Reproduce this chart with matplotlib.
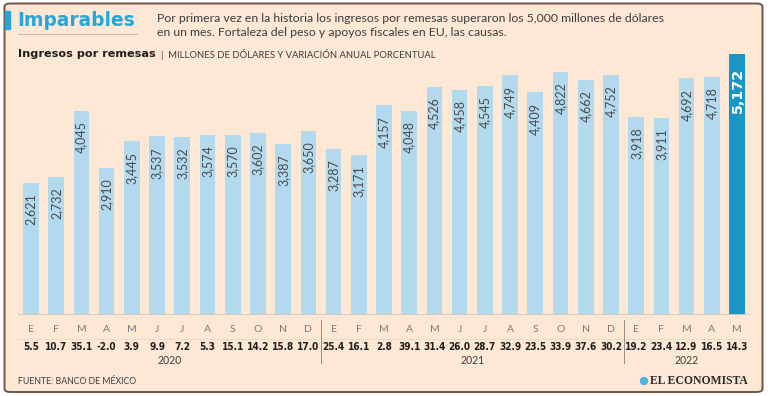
import matplotlib
matplotlib.use("Agg")
import matplotlib.pyplot as plt
import matplotlib.transforms as mtransforms
from matplotlib.patches import FancyBboxPatch, Rectangle, Ellipse

# == Data: remesas (millones de dolares) y variacion anual (%) == #
months = ['E', 'F', 'M', 'A', 'M', 'J', 'J', 'A', 'S', 'O', 'N', 'D',
          'E', 'F', 'M', 'A', 'M', 'J', 'J', 'A', 'S', 'O', 'N', 'D',
          'E', 'F', 'M', 'A', 'M']
ingresos = [2621, 2732, 4045, 2910, 3445, 3537, 3532, 3574, 3570, 3602, 3387, 3650,
            3287, 3171, 4157, 4048, 4526, 4458, 4545, 4749, 4409, 4822, 4662, 4752,
            3918, 3911, 4692, 4718, 5172]
variacion = ['5.5', '10.7', '35.1', '-2.0', '3.9', '9.9', '7.2', '5.3', '15.1', '14.2', '15.8', '17.0',
             '25.4', '16.1', '2.8', '39.1', '31.4', '26.0', '28.7', '32.9', '23.5', '33.9', '37.6', '30.2',
             '19.2', '23.4', '12.9', '16.5', '14.3']
years = ['2020', '2021', '2022']
year_span = [(0, 11), (12, 23), (24, 28)]

W, H = 768, 396
BG = '#fde7d5'
LIGHT = '#b3d9ee'
DARK = '#1a96c6'
TITLE_BLUE = '#27a6dc'
TXT = '#3d3d3d'


def fx(x):
    return x / W


def fy(y):
    return 1 - y / H


fig = plt.figure(figsize=(W / 100, H / 100), dpi=100)
fig.patch.set_facecolor('white')

# == Frame == #
frame = FancyBboxPatch((fx(4.5), fy(392)), fx(758), (388.5) / H,
                       boxstyle='round,pad=0,rounding_size=0.008',
                       transform=fig.transFigure, facecolor=BG,
                       edgecolor='#6e5546', linewidth=1.4, zorder=-10)
fig.patches.append(frame)

# == Header == #
fig.patches.append(Rectangle((fx(5), fy(29)), fx(5), 18 / H,
                             transform=fig.transFigure, color=TITLE_BLUE, zorder=-5))
fig.text(fx(17), fy(20.5), 'Imparables', fontsize=13.4, fontweight='bold',
         family='DejaVu Sans', color=TITLE_BLUE, va='center', ha='left')
fig.add_artist(plt.Line2D([fx(18), fx(137)], [fy(34), fy(34)],
                          transform=fig.transFigure, color='#cdbfb4', lw=0.8))
fig.text(fx(157), fy(18), 'Por primera vez en la historia los ingresos por remesas '
         'superaron los 5,000 millones de dólares', fontsize=8.8, family='Lato',
         color=TXT, va='center', ha='left')
fig.text(fx(157), fy(33), 'en un mes. Fortaleza del peso y apoyos fiscales en EU, las causas.',
         fontsize=8.8, family='Lato', color=TXT, va='center', ha='left')
fig.text(fx(18), fy(54), 'Ingresos por remesas', fontsize=8.1, fontweight='bold',
         family='DejaVu Sans', color='#1e1e1e', va='center', ha='left')
fig.text(fx(161), fy(54), '|  MILLONES DE DÓLARES Y VARIACIÓN ANUAL PORCENTUAL',
         fontsize=6.8, family='Lato', color=TXT, va='center', ha='left')

# == Bars == #
ax = fig.add_axes([fx(18), fy(315), (750 - 18) / W, (315 - 50) / H])
ax.set_facecolor('none')
x = list(range(len(ingresos)))
colors = [LIGHT] * (len(ingresos) - 1) + [DARK]
ax.bar(x, ingresos, width=0.62, color=colors, zorder=2)
ax.set_xlim(-0.516, len(ingresos) - 1 + 0.516)
ax.set_ylim(0, 5251)
ax.axhline(0, color='#dbc6b3', lw=1.3, zorder=3)
for s in ax.spines.values():
    s.set_visible(False)
ax.set_xticks([])
ax.set_yticks([])

for i, v in enumerate(ingresos):
    label = '{:,}'.format(v)
    if i == len(ingresos) - 1:
        ax.annotate(label, (i, v), xytext=(0.5, -10), textcoords='offset points',
                    rotation=90, ha='center', va='top', fontsize=10.3,
                    fontweight='bold', family='DejaVu Sans', color='white', zorder=4)
    else:
        ax.annotate(label, (i, v), xytext=(0, -7.5), textcoords='offset points',
                    rotation=90, ha='center', va='top', fontsize=9,
                    family='Lato', color='#4a4a4a', zorder=4)

# == Bottom table: months, changes, years == #
tr = mtransforms.blended_transform_factory(ax.transData, fig.transFigure)
for i, m in enumerate(months):
    ax.text(i, fy(330), m, transform=tr, ha='center', va='center',
            fontsize=7.5, family='Lato', color='#7a7a7a')
    ax.text(i, fy(347), variacion[i], transform=tr, ha='center', va='center',
            fontsize=7.2, family='DejaVu Sans', fontstretch='condensed',
            fontweight='bold', color='#1e1e1e')
ax.add_artist(plt.Line2D([-0.516, len(ingresos) - 0.484], [fy(338.5), fy(338.5)],
                         transform=tr, color='#f0d9c6', lw=0.8, clip_on=False))
for (a, b), yr in zip(year_span, years):
    ax.text((a + b) / 2, fy(361), yr, transform=tr, ha='center', va='center',
            fontsize=7.6, family='Lato', color=TXT)
for a, b in year_span[:-1]:
    ax.add_artist(plt.Line2D([b + 0.5, b + 0.5], [fy(320), fy(363)], transform=tr,
                             color='#9a8a80', lw=0.7, clip_on=False))

# == Footer == #
fig.text(fx(18), fy(381), 'FUENTE: BANCO DE MÉXICO', fontsize=6.3, family='Lato',
         color=TXT, va='center', ha='left')
fig.patches.append(Ellipse((fx(644), fy(381)), 7 / W, 7 / H, transform=fig.transFigure,
                           color='#4fb3df'))
fig.text(fx(650), fy(381.5), 'EL ECONOMISTA', fontsize=8.4, family='Liberation Serif',
         fontweight='bold', color='#2a2a2a', va='center', ha='left')

fig.savefig('out.png', dpi=100, facecolor=fig.get_facecolor())
